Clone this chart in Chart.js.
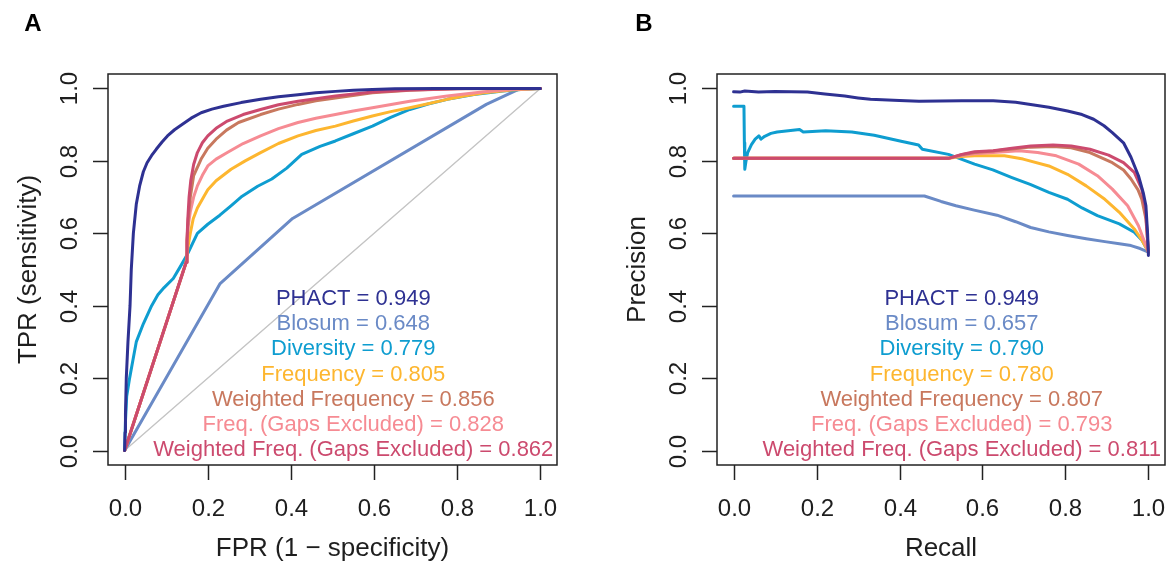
<!DOCTYPE html>
<html>
<head>
<meta charset="utf-8">
<script src="https://cdn.jsdelivr.net/npm/chart.js@4/dist/chart.umd.min.js"></script>
<style>
  body { margin: 0; background: #fff; }
  canvas { position: absolute; top: 0; }
  #rocChart { left: 0; }
  #prChart { left: 584px; }
</style>
</head>
<body>
<canvas id="rocChart" width="584" height="564"></canvas>
<canvas id="prChart" width="584" height="564"></canvas>
<script>
// Dados
const tickValues = [0, 0.2, 0.4, 0.6, 0.8, 1.0];
const tickLabels = ['0.0', '0.2', '0.4', '0.6', '0.8', '1.0'];

const seriesNames = ['PHACT', 'Blosum', 'Diversity', 'Frequency', 'Weighted Frequency',
  'Freq. (Gaps Excluded)', 'Weighted Freq. (Gaps Excluded)'];
const seriesColors = ['#2E3192', '#6A8AC6', '#0E9DD0', '#FDB62F', '#C8785E', '#F68B93', '#CC4A6E'];
const rocAuc = ['0.949', '0.648', '0.779', '0.805', '0.856', '0.828', '0.862'];
const prAuc = ['0.949', '0.657', '0.790', '0.780', '0.807', '0.793', '0.811'];

// Curvas ROC: [FPR, TPR]
const rocDiagonal = [[0, 0], [1, 1]];
const rocPhact = [[0,0],[0.001,0.05],[0.002,0.1],[0.004,0.2],[0.008,0.3],[0.013,0.4],[0.016,0.5],[0.021,0.6],
  [0.028,0.68],[0.036,0.73],[0.045,0.77],[0.054,0.795],[0.065,0.815],[0.076,0.832],[0.09,0.852],[0.103,0.869],
  [0.12,0.886],[0.139,0.901],[0.16,0.918],[0.184,0.933],[0.21,0.943],[0.238,0.951],[0.28,0.961],[0.327,0.97],
  [0.37,0.977],[0.417,0.983],[0.46,0.988],[0.507,0.992],[0.55,0.995],[0.596,0.997],[0.65,0.999],[0.75,1],[1,1]];
const rocBlosum = [[0,0],[0.229,0.46],[0.404,0.641],[0.87,0.956],[0.946,0.997],[1,1]];
const rocDiversity = [[0,0],[0.002,0.08],[0.005,0.15],[0.012,0.2],[0.02,0.25],[0.028,0.3],[0.045,0.35],[0.065,0.4],
  [0.08,0.43],[0.095,0.45],[0.117,0.475],[0.135,0.51],[0.15,0.54],[0.175,0.6],[0.2,0.625],[0.229,0.65],
  [0.255,0.675],[0.28,0.7],[0.32,0.73],[0.354,0.75],[0.39,0.78],[0.426,0.818],[0.47,0.84],[0.507,0.855],
  [0.55,0.875],[0.596,0.896],[0.64,0.92],[0.686,0.942],[0.73,0.957],[0.776,0.97],[0.84,0.983],[0.91,0.993],
  [0.96,0.998],[1,1]];
const rocFreq = [[0,0],[0.148,0.52],[0.152,0.56],[0.158,0.6],[0.165,0.64],[0.175,0.67],[0.19,0.7],[0.2,0.72],
  [0.22,0.745],[0.256,0.777],[0.29,0.8],[0.327,0.823],[0.37,0.848],[0.417,0.869],[0.46,0.884],[0.507,0.896],
  [0.55,0.91],[0.596,0.924],[0.64,0.936],[0.686,0.947],[0.73,0.958],[0.776,0.97],[0.82,0.98],[0.865,0.988],
  [0.93,0.996],[1,1]];
const rocWFreq = [[0,0],[0.148,0.52],[0.15,0.58],[0.153,0.64],[0.158,0.7],[0.166,0.759],[0.184,0.805],[0.2,0.835],
  [0.22,0.86],[0.245,0.885],[0.274,0.906],[0.327,0.928],[0.37,0.943],[0.417,0.956],[0.46,0.966],[0.507,0.974],
  [0.596,0.988],[0.686,0.995],[0.8,0.999],[1,1]];
const rocFreqGE = [[0,0],[0.148,0.52],[0.15,0.57],[0.153,0.62],[0.158,0.66],[0.166,0.7],[0.175,0.731],[0.187,0.76],
  [0.2,0.786],[0.22,0.805],[0.247,0.823],[0.285,0.848],[0.327,0.869],[0.37,0.889],[0.417,0.906],[0.46,0.918],
  [0.507,0.928],[0.55,0.938],[0.596,0.947],[0.686,0.965],[0.776,0.979],[0.865,0.991],[0.93,0.997],[1,1]];
const rocWFreqGE = [[0,0],[0.148,0.52],[0.15,0.58],[0.152,0.64],[0.155,0.7],[0.159,0.745],[0.166,0.79],[0.175,0.823],
  [0.187,0.85],[0.2,0.869],[0.22,0.89],[0.247,0.91],[0.285,0.928],[0.327,0.942],[0.37,0.955],[0.417,0.965],
  [0.507,0.979],[0.596,0.99],[0.686,0.996],[0.82,1],[1,1]];

// Curvas Precision-Recall: [Recall, Precision]
const prPhact = [[0,0.991],[0.015,0.99],[0.027,0.993],[0.06,0.99],[0.1,0.992],[0.178,0.99],[0.22,0.985],[0.268,0.979],
  [0.3,0.974],[0.33,0.97],[0.4,0.967],[0.447,0.965],[0.55,0.966],[0.626,0.966],[0.68,0.962],[0.716,0.956],
  [0.76,0.948],[0.805,0.938],[0.84,0.928],[0.868,0.915],[0.893,0.897],[0.913,0.878],[0.94,0.85],[0.958,0.81],
  [0.976,0.759],[0.988,0.71],[0.994,0.676],[0.998,0.6],[1,0.539]];
const prBlosum = [[0,0.703],[0.46,0.703],[0.5,0.688],[0.536,0.676],[0.58,0.664],[0.635,0.65],[0.68,0.632],
  [0.716,0.616],[0.76,0.604],[0.805,0.594],[0.85,0.585],[0.895,0.577],[0.93,0.571],[0.958,0.566],[0.98,0.558],[1,0.548]];
const prDiversity = [[0,0.951],[0.025,0.951],[0.026,0.85],[0.027,0.777],[0.03,0.8],[0.034,0.823],[0.043,0.845],
  [0.052,0.86],[0.061,0.869],[0.066,0.86],[0.075,0.868],[0.09,0.876],[0.105,0.88],[0.159,0.887],[0.168,0.88],
  [0.222,0.883],[0.285,0.88],[0.339,0.871],[0.401,0.855],[0.446,0.844],[0.455,0.832],[0.518,0.818],[0.581,0.791],
  [0.625,0.775],[0.671,0.754],[0.715,0.735],[0.76,0.713],[0.805,0.694],[0.84,0.67],[0.877,0.649],[0.93,0.626],
  [0.966,0.603],[0.985,0.58],[1,0.548]];
const prFreq = [[0,0.807],[0.518,0.807],[0.55,0.812],[0.581,0.814],[0.653,0.814],[0.698,0.805],[0.76,0.786],
  [0.805,0.763],[0.85,0.731],[0.895,0.694],[0.93,0.658],[0.966,0.612],[0.985,0.58],[1,0.548]];
const prWFreq = [[0,0.807],[0.518,0.807],[0.55,0.817],[0.581,0.823],[0.626,0.827],[0.671,0.833],[0.716,0.838],
  [0.77,0.84],[0.814,0.836],[0.859,0.823],[0.913,0.795],[0.94,0.775],[0.958,0.75],[0.975,0.72],[0.984,0.694],
  [0.994,0.64],[1,0.548]];
const prFreqGE = [[0,0.807],[0.518,0.807],[0.55,0.815],[0.581,0.82],[0.626,0.823],[0.688,0.828],[0.733,0.823],
  [0.778,0.814],[0.832,0.791],[0.877,0.759],[0.913,0.722],[0.95,0.676],[0.976,0.621],[1,0.548]];
const prWFreqGE = [[0,0.807],[0.518,0.807],[0.55,0.818],[0.581,0.825],[0.626,0.828],[0.671,0.835],[0.716,0.841],
  [0.77,0.844],[0.814,0.841],[0.859,0.832],[0.904,0.816],[0.94,0.795],[0.966,0.768],[0.984,0.722],[0.993,0.667],[1,0.548]];

const FONT = '"Liberation Sans", Arial, Helvetica, sans-serif';
const TEXT_COLOR = '#1e1e1e';
// ordem de desenho: menor = por cima
const drawOrder = [0, 6, 5, 4, 2, 3, 1];

// Eixos estilo R (caixa + ticks destacados + legenda de AUC)
const rAxes = {
  id: 'rAxes',
  afterDraw(chart, args, opts) {
    const { ctx, chartArea: a, scales: { x, y } } = chart;
    ctx.save();
    ctx.strokeStyle = '#222';
    ctx.lineWidth = 1.5;
    ctx.strokeRect(a.left, a.top, a.right - a.left, a.bottom - a.top);

    ctx.fillStyle = TEXT_COLOR;
    ctx.font = '24px ' + FONT;
    ctx.textAlign = 'center';
    ctx.textBaseline = 'middle';
    tickValues.forEach((v, i) => {
      const px = Math.round(x.getPixelForValue(v)) + 0.5;
      ctx.beginPath();
      ctx.moveTo(px, a.bottom);
      ctx.lineTo(px, a.bottom + 15);
      ctx.stroke();
      ctx.fillText(tickLabels[i], px, a.bottom + 44);

      const py = Math.round(y.getPixelForValue(v)) + 0.5;
      ctx.beginPath();
      ctx.moveTo(a.left, py);
      ctx.lineTo(a.left - 15, py);
      ctx.stroke();
      ctx.save();
      ctx.translate(a.left - 38, py);
      ctx.rotate(-Math.PI / 2);
      ctx.fillText(tickLabels[i], 0, 0);
      ctx.restore();
    });

    // titulos dos eixos
    ctx.font = '26px ' + FONT;
    ctx.fillText(opts.xTitle, (a.left + a.right) / 2, a.bottom + 84);
    ctx.save();
    ctx.translate(a.left - 79, (a.top + a.bottom) / 2);
    ctx.rotate(-Math.PI / 2);
    ctx.fillText(opts.yTitle, 0, 0);
    ctx.restore();

    // letra do painel
    ctx.font = 'bold 24px ' + FONT;
    ctx.fillStyle = '#000';
    ctx.fillText(opts.letter, opts.letterX, 24);

    // legenda com AUC
    ctx.font = '22px ' + FONT;
    const cx = x.getPixelForValue(0.55);
    seriesNames.forEach((name, i) => {
      ctx.fillStyle = seriesColors[i];
      ctx.fillText(name + ' = ' + opts.auc[i], cx, a.bottom - 166 + i * 25.2);
    });
    ctx.restore();
  }
};

function toPoints(arr) {
  return arr.map(p => ({ x: p[0], y: p[1] }));
}

function criarGrafico(id, curvas, extra, opts, padding) {
  const datasets = curvas.map((c, i) => ({
    data: toPoints(c),
    borderColor: seriesColors[i],
    borderWidth: 3,
    order: drawOrder[i]
  }));
  if (extra) {
    datasets.push({ data: toPoints(extra), borderColor: '#C4C4C4', borderWidth: 1.4, order: 10 });
  }
  return new Chart(document.getElementById(id), {
    type: 'scatter',
    data: { datasets },
    options: {
      responsive: false,
      animation: false,
      showLine: true,
      elements: { point: { radius: 0 }, line: { tension: 0, borderCapStyle: 'round', borderJoinStyle: 'round' } },
      layout: { padding },
      scales: {
        x: { type: 'linear', min: -0.04, max: 1.04, display: false },
        y: { type: 'linear', min: -0.04, max: 1.04, display: false }
      },
      plugins: { legend: { display: false }, tooltip: { enabled: false }, rAxes: opts }
    },
    plugins: [rAxes]
  });
}

criarGrafico('rocChart',
  [rocPhact, rocBlosum, rocDiversity, rocFreq, rocWFreq, rocFreqGE, rocWFreqGE],
  rocDiagonal,
  { xTitle: 'FPR (1 \u2212 specificity)', yTitle: 'TPR (sensitivity)', letter: 'A', letterX: 33, auc: rocAuc },
  { left: 108, right: 27, top: 74, bottom: 99 });

criarGrafico('prChart',
  [prPhact, prBlosum, prDiversity, prFreq, prWFreq, prFreqGE, prWFreqGE],
  null,
  { xTitle: 'Recall', yTitle: 'Precision', letter: 'B', letterX: 60, auc: prAuc },
  { left: 133, right: 3, top: 74, bottom: 99 });
</script>
</body>
</html>
